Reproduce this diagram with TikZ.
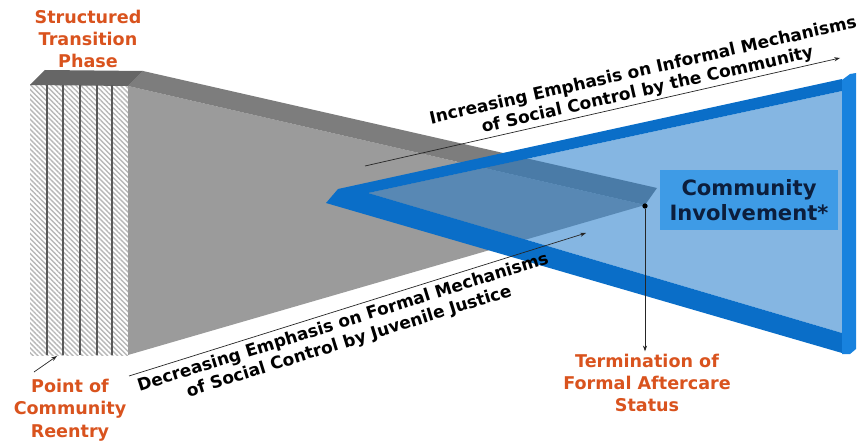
\documentclass[tikz,border=0pt]{standalone}
\usepackage{fontspec}
\setmainfont{DejaVu Sans}
\usetikzlibrary{patterns.meta,arrows.meta}

\definecolor{tagorange}{RGB}{217,83,30}
\definecolor{frameblue}{RGB}{10,110,200}
\definecolor{barblue}{RGB}{24,130,222}
\definecolor{innerblue}{RGB}{33,122,202}
\definecolor{boxblue}{RGB}{62,155,230}
\definecolor{navytext}{RGB}{12,30,60}
\definecolor{wedgefront}{RGB}{155,155,155}
\definecolor{wedgetop}{RGB}{125,125,125}
\definecolor{blocktop}{RGB}{102,102,102}

\begin{document}
\begin{tikzpicture}[x=0.3mm,y=-0.3mm,
tagtext/.style={text=tagorange, font=\bfseries\fontsize{15}{19}\selectfont, align=center, inner sep=2pt},
emphtext/.style={font=\bfseries\fontsize{14.5}{17}\selectfont, align=center, sloped, inner sep=2pt},
arrowline/.style={-{Stealth[length=5pt,width=3.5pt]}, line width=0.6pt, draw=black!85},
]
\useasboundingbox (0,0) rectangle (862,447);

%Gray wedge
\fill[wedgefront] (128,86) -- (645,205) -- (128,355) -- cycle;
\fill[wedgetop] (128,86) -- (143,71) -- (657,188) -- (645,205) -- cycle;

%Hatched block
\fill[white] (30,85) rectangle (128,355);
\fill[pattern={Lines[angle=-45,distance=3pt,line width=1.2pt]}, pattern color=black!28] (30,85) rectangle (128,355);
\fill[blocktop] (30,85) -- (45,70) -- (143,71) -- (128,86) -- cycle;
\foreach \x in {47,63,80,97,112}
  \draw[black!65, line width=1.1pt] (\x,85) -- (\x,355);

%Blue wedge
\fill[innerblue, fill opacity=0.55] (368,193) -- (842,91) -- (842,333) -- cycle;
\fill[frameblue, even odd rule] (338,189) -- (842,79) -- (842,353) -- (326,203) -- cycle
  (368,193) -- (842,91) -- (842,333) -- cycle;
\fill[barblue] (842,80) -- (850,74) -- (856,73) -- (856,349) -- (850,354) -- (842,354) -- cycle;

%Nodes
\node[fill=boxblue, text=navytext, font=\bfseries\fontsize{18}{21.5}\selectfont, align=center,
  minimum width=53.4mm, minimum height=18mm] at (749,200) (ci) {Community\\Involvement*};
\node[tagtext] at (88,39) (phase) {Structured\\Transition\\Phase};
\node[tagtext] at (70,410) (reentry) {Point of\\Community\\Reentry};
\node[tagtext] at (647,383) (term) {Termination of\\Formal Aftercare\\Status};
\node[circle, fill=black, inner sep=0pt, minimum size=4.5pt] at (645,206) (dot) {};
\coordinate (inc-a) at (365,166);
\coordinate (inc-b) at (840,58);
\coordinate (dec-a) at (129,376);
\coordinate (dec-b) at (586,233);
\coordinate (re-a) at (34,372);
\coordinate (re-b) at (57,356);

%Lines
\draw[arrowline] (inc-a) -- node[emphtext, above, pos=0.6] {Increasing Emphasis on Informal Mechanisms\\of Social Control by the Community} (inc-b);
\draw[arrowline] (dec-a) -- node[emphtext, below, pos=0.46, inner sep=4pt] {Decreasing Emphasis on Formal Mechanisms\\of Social Control by Juvenile Justice} (dec-b);
\draw[arrowline] (dot) -- (dot |- term.north);
\draw[arrowline] (re-a) -- (re-b);
\end{tikzpicture}
\end{document}
